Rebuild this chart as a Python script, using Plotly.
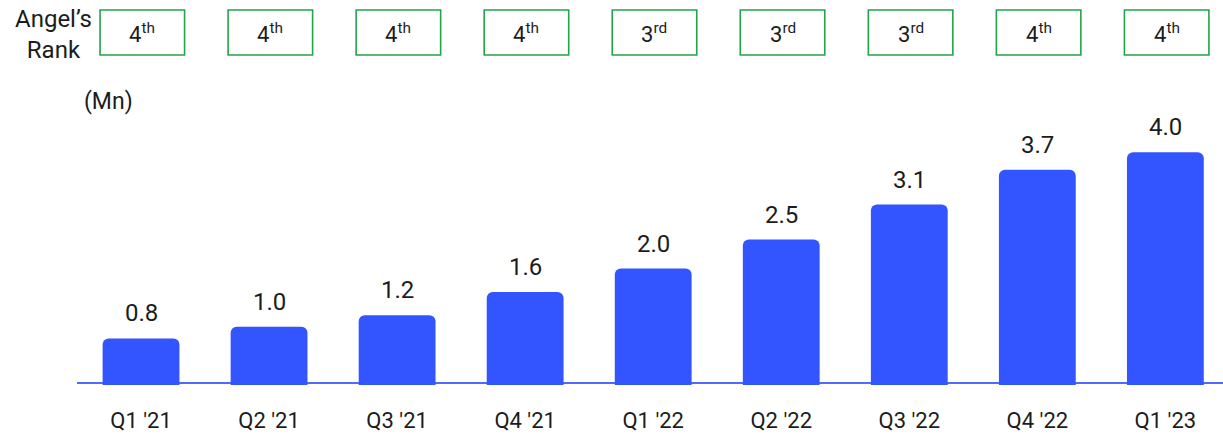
import plotly.graph_objects as go

quarters = ["Q1 '21", "Q2 '21", "Q3 '21", "Q4 '21", "Q1 '22", "Q2 '22", "Q3 '22", "Q4 '22", "Q1 '23"]
clients_mn = [0.8, 1.0, 1.2, 1.6, 2.0, 2.5, 3.1, 3.7, 4.0]
rank_num = ["4", "4", "4", "4", "3", "3", "3", "4", "4"]
rank_suffix = ["th", "th", "th", "th", "rd", "rd", "rd", "th", "th"]

FONT = "Roboto"
TXT = "#1c1c1c"
BLUE = "#3355ff"
GREEN = "#23a44a"

fig = go.Figure()
fig.add_trace(go.Bar(
    x=list(range(len(quarters))), y=clients_mn,
    marker=dict(color=BLUE, cornerradius=6, line=dict(width=0)),
    width=0.6, hoverinfo="skip",
))

# value labels
for i, v in enumerate(clients_mn):
    fig.add_annotation(x=i, y=v, text=f"{v:.1f}", showarrow=False, yanchor="bottom",
                       yshift=9, font=dict(family=FONT, size=24, color=TXT))

# rank boxes
for i, (n, s) in enumerate(zip(rank_num, rank_suffix)):
    fig.add_shape(type="rect", xref="x", yref="paper", x0=i - 0.32, x1=i + 0.34,
                  y0=(385 - 55) / 385, y1=(385 - 10) / 385,
                  line=dict(color=GREEN, width=1.6), fillcolor="rgba(0,0,0,0)")
    fig.add_annotation(x=i + 0.01, xref="x", yref="paper", y=(385 - 33) / 385, text=f"{n}<sup>{s}</sup>",
                       showarrow=False, yanchor="middle", font=dict(family=FONT, size=22, color=TXT))

# baseline
fig.add_shape(type="line", xref="paper", yref="y", x0=0, x1=1, y0=0.035, y1=0.035,
              line=dict(color="#4d6bff", width=2), layer="below")

fig.add_annotation(xref="paper", yref="paper", x=-77 / 1146 + 53 / 1146, y=(385 - 34) / 385,
                   text="Angel’s<br>Rank", showarrow=False, xanchor="center", yanchor="middle",
                   align="center", font=dict(family=FONT, size=24, color=TXT))
fig.add_annotation(xref="paper", yref="paper", x=5 / 1146, y=(385 - 102) / 385,
                   text="(Mn)", showarrow=False, xanchor="left", yanchor="middle",
                   font=dict(family=FONT, size=23, color=TXT))

fig.update_layout(
    width=1223, height=436,
    margin=dict(l=77, r=0, t=0, b=51),
    paper_bgcolor="white", plot_bgcolor="white",
    showlegend=False,
    bargap=0.4,
    xaxis=dict(range=[-0.5, 8.45], tickmode="array", tickvals=list(range(len(quarters))),
               ticktext=quarters, showgrid=False, zeroline=False, showline=False,
               ticks="outside", ticklen=16, tickcolor="rgba(0,0,0,0)",
               tickfont=dict(family=FONT, size=22, color=TXT)),
    yaxis=dict(range=[0, 385 / 58.2], visible=False, showgrid=False, zeroline=False),
)

fig.write_html("out.html", config={"displayModeBar": False},
               post_script="document.body.style.margin='0';")
